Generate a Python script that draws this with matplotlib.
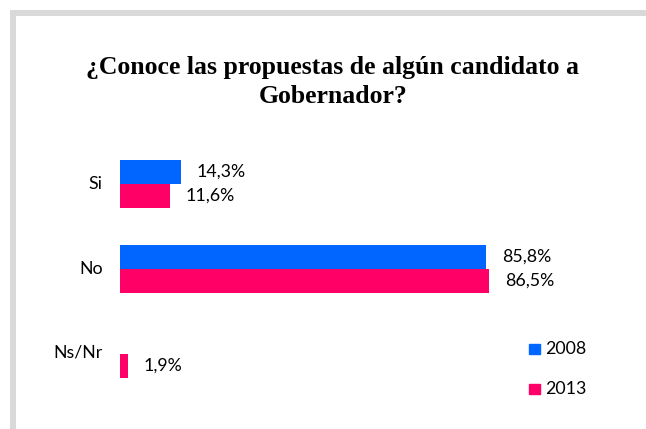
import matplotlib.pyplot as plt
from matplotlib.patches import Rectangle

categories = ["Si", "No", "Ns/Nr"]
years = ["2008", "2013"]
values_2008 = [14.3, 85.8, None]
values_2013 = [11.6, 86.5, 1.9]
title = "¿Conoce las propuestas de algún candidato a\nGobernador?"

blue = "#0066FF"
pink = "#FF0066"

W, H = 646, 429
fig = plt.figure(figsize=(W / 100, H / 100), dpi=100)

# light gray frame: only left and top sides are visible
gray = "#D9D9D9"
fig.patches.append(Rectangle((10 / W, 0), 6 / W, 1 - 10 / H,
                             transform=fig.transFigure, color=gray, lw=0))
fig.patches.append(Rectangle((10 / W, 1 - 16 / H), 1 - 10 / W, 6 / H,
                             transform=fig.transFigure, color=gray, lw=0))

fig.text(333 / W, 1 - 82 / H, title, ha="center", va="center",
         fontsize=18.5, fontweight="bold", family="Liberation Serif",
         linespacing=1.38)

ax = fig.add_axes([120 / W, 1 - 396.5 / H, 427 / W, 255 / H])
ax.set_xlim(0, 100)
ax.set_ylim(2.5, -0.5)
ax.axis("off")

h = 24 / 85
font = "Lato"
fs = 12.8
for i, cat in enumerate(categories):
    v1, v2 = values_2008[i], values_2013[i]
    if v1 is not None:
        ax.barh(i - h / 2, v1, height=h, color=blue)
        ax.text(v1 + 3.7, i - h / 2, f"{v1:.1f}".replace(".", ",") + "%",
                va="center", ha="left", fontsize=fs, family=font)
    if v2 is not None:
        ax.barh(i + h / 2, v2, height=h, color=pink)
        ax.text(v2 + 3.7, i + h / 2, f"{v2:.1f}".replace(".", ",") + "%",
                va="center", ha="left", fontsize=fs, family=font)
    ax.text(-4, i if i < 2 else i - 0.02, cat, ha="right", va="center",
            fontsize=fs, family=font)

# legend
for j, (yr, c) in enumerate(zip(years, [blue, pink])):
    ypix = 349 + j * 40
    fig.patches.append(Rectangle((529 / W, 1 - (ypix + 5) / H), 11 / W, 10 / H,
                                 transform=fig.transFigure, color=c))
    fig.text(545 / W, 1 - ypix / H, yr, ha="left", va="center",
             fontsize=fs, family=font)

fig.savefig("out.png", dpi=100)
